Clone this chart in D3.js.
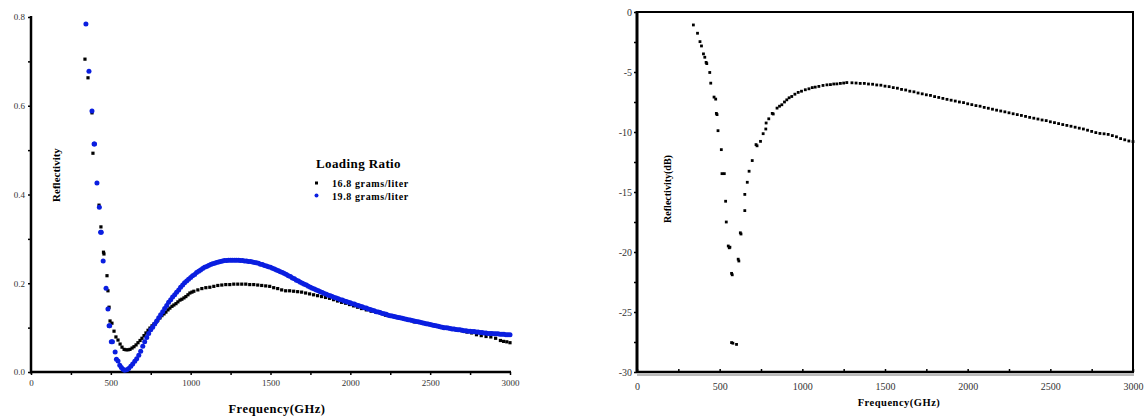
<!DOCTYPE html>
<html>
<head>
<meta charset="utf-8">
<script src="https://cdn.jsdelivr.net/npm/d3@7"></script>
<style>
  body { margin: 0; background: #fff; }
  svg { display: block; }
  text { font-family: "Liberation Serif", "Times New Roman", serif; }
</style>
</head>
<body>
<svg id="chart" width="1146" height="417"></svg>
<script>
// ---- Left panel: reflectivity (linear) for two loading ratios ----
const leftXTicks = [0, 500, 1000, 1500, 2000, 2500, 3000];
const leftYTicks = [0.0, 0.2, 0.4, 0.6, 0.8];
const legendTitle = "Loading Ratio";
const seriesNames = ["16.8 grams/liter", "19.8 grams/liter"];

// 16.8 grams/liter  [frequency GHz, reflectivity]
const load168 = [
  [338,0.705],[357,0.663],[382,0.584],[388,0.493],[426,0.376],[438,0.327],[454,0.270],[457,0.266],
  [476,0.217],[482,0.183],[489,0.146],[495,0.115],[507,0.110],[520,0.092],[532,0.079],[545,0.072],
  [558,0.063],[570,0.056],[583,0.051],[595,0.050],[608,0.050],[620,0.051],[633,0.054],[645,0.057],
  [658,0.061],[670,0.066],[683,0.071],[695,0.076],[708,0.082],[720,0.088],[733,0.094],[745,0.099],
  [758,0.104],[770,0.108],[783,0.112],[795,0.117],[808,0.122],[820,0.127],[833,0.131],[845,0.135],
  [858,0.140],[870,0.144],[883,0.148],[895,0.151],[908,0.154],[920,0.158],[933,0.162],[945,0.164],
  [958,0.167],[970,0.170],[983,0.174],[995,0.178],[1008,0.180],[1020,0.182],[1045,0.185],[1070,0.188],
  [1095,0.190],[1120,0.191],[1145,0.193],[1170,0.195],[1195,0.196],[1220,0.197],[1245,0.197],[1270,0.198],
  [1295,0.198],[1320,0.198],[1345,0.198],[1370,0.197],[1395,0.197],[1420,0.196],[1445,0.195],[1470,0.194],
  [1495,0.193],[1520,0.190],[1545,0.188],[1570,0.185],[1595,0.183],[1620,0.183],[1645,0.182],[1670,0.181],
  [1695,0.180],[1720,0.178],[1745,0.176],[1770,0.174],[1795,0.172],[1820,0.170],[1845,0.168],[1870,0.166],
  [1895,0.163],[1920,0.160],[1945,0.157],[1970,0.155],[1995,0.152],[2020,0.149],[2045,0.146],[2070,0.143],
  [2100,0.140],[2130,0.137],[2160,0.135],[2190,0.133],[2220,0.128],[2250,0.126],[2280,0.124],[2310,0.121],
  [2340,0.119],[2370,0.117],[2400,0.113],[2430,0.112],[2460,0.110],[2490,0.108],[2520,0.106],[2550,0.103],
  [2580,0.101],[2610,0.099],[2640,0.098],[2670,0.094],[2700,0.093],[2730,0.090],[2760,0.088],[2790,0.084],
  [2820,0.082],[2850,0.080],[2880,0.079],[2910,0.076],[2940,0.071],[2960,0.069],[2980,0.068],[3000,0.066]
];

// 19.8 grams/liter  [frequency GHz, reflectivity]
const load198 = [
  [344,0.784],[363,0.678],[382,0.588],[395,0.514],[398,0.514],[413,0.426],[428,0.371],[436,0.315],
  [440,0.315],[452,0.250],[470,0.189],[482,0.142],[489,0.104],[493,0.104],[503,0.068],[510,0.068],
  [527,0.045],[535,0.029],[545,0.025],[556,0.015],[566,0.010],[576,0.006],[586,0.004],
  [600,0.005],[612,0.008],[625,0.013],[637,0.018],[650,0.024],[662,0.030],[675,0.038],[687,0.047],
  [700,0.058],[712,0.068],[725,0.078],[737,0.087],[750,0.095],[762,0.101],[775,0.108],[787,0.115],
  [800,0.122],[812,0.129],[825,0.136],[837,0.143],[850,0.150],[862,0.157],[875,0.163],[887,0.169],
  [900,0.174],[912,0.180],[925,0.185],[937,0.191],[950,0.196],[962,0.201],[975,0.205],[987,0.209],
  [1000,0.213],[1012,0.217],[1025,0.220],[1037,0.224],[1050,0.227],[1062,0.230],[1075,0.233],[1087,0.236],
  [1100,0.238],[1112,0.240],[1125,0.242],[1137,0.244],[1150,0.245],[1162,0.247],[1175,0.248],[1187,0.249],
  [1200,0.250],[1212,0.251],[1225,0.251],[1237,0.252],[1250,0.252],[1262,0.252],[1275,0.252],[1287,0.252],
  [1300,0.252],[1312,0.251],[1325,0.251],[1337,0.250],[1350,0.250],[1362,0.249],[1375,0.249],[1387,0.248],
  [1400,0.247],[1412,0.246],[1425,0.245],[1437,0.243],[1450,0.242],[1462,0.240],[1475,0.239],[1487,0.237],
  [1500,0.236],[1512,0.234],[1525,0.232],[1537,0.230],[1550,0.228],[1562,0.226],[1575,0.224],[1587,0.222],
  [1600,0.220],[1612,0.217],[1625,0.215],[1637,0.212],[1650,0.210],[1662,0.207],[1675,0.205],[1687,0.202],
  [1700,0.200],[1712,0.198],[1725,0.196],[1737,0.193],[1750,0.191],[1762,0.189],[1775,0.187],[1787,0.185],
  [1800,0.183],[1812,0.181],[1825,0.179],[1837,0.177],[1850,0.175],[1862,0.173],[1875,0.172],[1887,0.170],
  [1900,0.168],[1912,0.167],[1925,0.165],[1937,0.163],[1950,0.162],[1962,0.160],[1975,0.159],[1987,0.157],
  [2000,0.156],[2012,0.154],[2025,0.153],[2037,0.151],[2050,0.150],[2062,0.148],[2075,0.147],[2087,0.145],
  [2100,0.144],[2112,0.142],[2125,0.141],[2137,0.139],[2150,0.138],[2162,0.136],[2175,0.135],[2187,0.134],
  [2200,0.132],[2212,0.131],[2225,0.130],[2237,0.128],[2250,0.127],[2262,0.126],[2275,0.125],[2287,0.124],
  [2300,0.123],[2312,0.122],[2325,0.121],[2337,0.120],[2350,0.119],[2362,0.118],[2375,0.117],[2387,0.116],
  [2400,0.115],[2412,0.114],[2425,0.113],[2437,0.112],[2450,0.111],[2462,0.110],[2475,0.109],[2487,0.108],
  [2500,0.107],[2512,0.106],[2525,0.105],[2537,0.104],[2550,0.103],[2562,0.102],[2575,0.101],[2587,0.100],
  [2600,0.100],[2612,0.099],[2625,0.098],[2637,0.097],[2650,0.097],[2662,0.096],[2675,0.095],[2687,0.095],
  [2700,0.094],[2712,0.093],[2725,0.093],[2737,0.092],[2750,0.092],[2762,0.091],[2775,0.091],[2787,0.090],
  [2800,0.090],[2812,0.089],[2825,0.089],[2837,0.088],[2850,0.088],[2862,0.087],[2875,0.087],[2887,0.087],
  [2900,0.086],[2912,0.086],[2925,0.086],[2937,0.085],[2950,0.085],[2962,0.085],[2975,0.084],[2987,0.084],
  [3000,0.084]
];

// ---- Right panel: reflectivity in dB ----
const rightXTicks = [0, 500, 1000, 1500, 2000, 2500, 3000];
const rightYTicks = [0, -5, -10, -15, -20, -25, -30];

// [frequency GHz, reflectivity dB]
const reflDb = [
  [341,-1.08],[366,-1.77],[381,-2.47],[390,-2.83],[402,-3.49],[410,-3.77],[418,-4.20],[422,-4.30],
  [440,-5.04],[446,-5.93],[466,-7.09],[476,-7.26],[480,-8.45],[484,-8.55],[490,-9.89],[510,-11.47],
  [514,-13.47],[528,-13.47],[536,-15.77],[540,-17.50],[552,-19.50],[558,-19.65],[562,-19.60],[572,-21.78],
  [576,-21.90],[572,-27.55],[580,-27.60],[602,-27.70],[612,-20.60],[616,-20.75],[625,-18.40],[629,-18.50],
  [652,-16.55],[652,-15.20],[667,-14.19],[678,-13.27],[697,-12.38],[720,-11.05],[726,-11.15],[747,-10.78],
  [763,-10.14],[779,-9.75],[781,-9.25],[797,-8.90],[818,-8.45],[824,-8.50],[847,-8.01],[862,-7.85],
  [876,-7.73],[892,-7.50],[906,-7.32],[920,-7.15],[936,-7.04],[955,-6.85],[975,-6.70],[995,-6.60],
  [1018,-6.48],[1040,-6.40],[1060,-6.30],[1078,-6.26],[1100,-6.20],[1125,-6.12],[1149,-6.07],[1170,-6.05],
  [1190,-6.00],[1209,-5.99],[1230,-5.95],[1250,-5.92],[1269,-5.88],[1300,-5.90],[1325,-5.92],[1350,-5.95],
  [1375,-5.95],[1400,-6.00],[1425,-6.02],[1450,-6.08],[1475,-6.10],[1500,-6.18],[1525,-6.22],[1550,-6.30],
  [1575,-6.35],[1600,-6.45],[1625,-6.50],[1650,-6.60],[1675,-6.65],[1700,-6.75],[1725,-6.82],[1750,-6.90],
  [1775,-6.95],[1800,-7.05],[1825,-7.12],[1850,-7.20],[1875,-7.28],[1900,-7.35],[1925,-7.42],[1950,-7.50],
  [1975,-7.55],[2000,-7.65],[2025,-7.72],[2050,-7.80],[2075,-7.85],[2100,-7.95],[2125,-8.02],[2150,-8.10],
  [2175,-8.18],[2200,-8.25],[2225,-8.32],[2250,-8.40],[2275,-8.48],[2300,-8.55],[2325,-8.62],[2350,-8.70],
  [2375,-8.78],[2400,-8.85],[2425,-8.92],[2450,-9.00],[2475,-9.05],[2500,-9.15],[2525,-9.22],[2550,-9.30],
  [2575,-9.38],[2600,-9.45],[2625,-9.52],[2650,-9.60],[2675,-9.68],[2700,-9.75],[2725,-9.85],[2750,-9.95],
  [2775,-10.05],[2800,-10.12],[2825,-10.15],[2850,-10.20],[2875,-10.30],[2900,-10.40],[2925,-10.55],[2950,-10.65],
  [2975,-10.75],[3000,-10.80]
];

const svg = d3.select("#chart");

// ================= Left panel =================
const L = { left: 31, right: 510, top: 17, bottom: 372 };
const xL = d3.scaleLinear().domain([0, 3000]).range([L.left, L.right]);
const yL = d3.scaleLinear().domain([0, 0.8]).range([L.bottom, L.top]);

const gL = svg.append("g");

// minor ticks every 250 GHz / 0.1
const xAxisL = d3.axisBottom(xL).tickValues(d3.range(0, 3001, 250)).tickSize(3)
  .tickFormat(d => leftXTicks.includes(d) ? d : "");
const yAxisL = d3.axisLeft(yL).tickValues(d3.range(0, 0.81, 0.1).map(v => +v.toFixed(1))).tickSize(3)
  .tickFormat(d => leftYTicks.some(t => Math.abs(t - d) < 1e-9) ? d3.format(".1f")(d) : "");

function styleAxis(g, fs) {
  g.select(".domain").remove();
  g.selectAll(".tick line").attr("stroke", "#000").attr("stroke-width", 1.5);
  g.selectAll(".tick text").attr("fill", "#333").style("font-size", fs + "px")
    .style("font-family", "'Liberation Serif', serif");
}

gL.append("g").attr("transform", `translate(0,${L.bottom})`).call(xAxisL)
  .call(g => { styleAxis(g, 9); g.selectAll(".tick text").attr("dy", "0.9em"); });
gL.append("g").attr("transform", `translate(${L.left},0)`).call(yAxisL)
  .call(g => styleAxis(g, 9));

gL.append("line").attr("x1", L.left).attr("x2", L.left).attr("y1", L.top - 1).attr("y2", L.bottom + 1.5)
  .attr("stroke", "#000").attr("stroke-width", 2.5);
gL.append("line").attr("x1", L.left - 1).attr("x2", L.right + 1).attr("y1", L.bottom).attr("y2", L.bottom)
  .attr("stroke", "#000").attr("stroke-width", 2.5);

// series: black squares, then blue circles on top
gL.append("g").selectAll("rect").data(load168).join("rect")
  .attr("x", d => xL(d[0]) - 1.6).attr("y", d => yL(d[1]) - 1.6)
  .attr("width", 3.2).attr("height", 3.2).attr("fill", "#000");
gL.append("g").selectAll("circle").data(load198).join("circle")
  .attr("cx", d => xL(d[0])).attr("cy", d => yL(d[1])).attr("r", 2.5).attr("fill", "#0a1ee0");

// axis titles
gL.append("text").attr("x", 277).attr("y", 413).attr("text-anchor", "middle")
  .style("font-size", "12.5px").style("font-weight", "bold").style("letter-spacing", "0.5px")
  .text("Frequency(GHz)");
gL.append("text").attr("transform", "translate(60,175) rotate(-90)").attr("text-anchor", "middle")
  .style("font-size", "11px").style("font-weight", "bold").text("Reflectivity");

// legend
const lg = gL.append("g");
lg.append("text").attr("x", 316).attr("y", 168).style("font-size", "13px").style("font-weight", "bold")
  .style("letter-spacing", "0.4px").text(legendTitle);
lg.append("rect").attr("x", 315).attr("y", 181.5).attr("width", 3).attr("height", 3).attr("fill", "#000");
lg.append("circle").attr("cx", 316.5).attr("cy", 195.5).attr("r", 2).attr("fill", "#0a1ee0");
lg.append("text").attr("x", 332).attr("y", 187).style("font-size", "10px").style("font-weight", "bold")
  .style("letter-spacing", "0.6px").text(seriesNames[0]);
lg.append("text").attr("x", 332).attr("y", 200).style("font-size", "10px").style("font-weight", "bold")
  .style("letter-spacing", "0.6px").text(seriesNames[1]);

// ================= Right panel =================
const R = { left: 637, right: 1133, top: 12, bottom: 372 };
const xR = d3.scaleLinear().domain([0, 3000]).range([R.left, R.right]);
const yR = d3.scaleLinear().domain([-30, 0]).range([R.bottom, R.top]);
const gR = svg.append("g");

const xAxisR = d3.axisBottom(xR).tickValues(d3.range(0, 3001, 250)).tickSize(-3)
  .tickFormat(d => rightXTicks.includes(d) ? d : "");
const yAxisR = d3.axisLeft(yR).tickValues(d3.range(-30, 0.1, 2.5)).tickSize(3)
  .tickFormat(d => rightYTicks.includes(d) ? d : "");

gR.append("g").attr("transform", `translate(0,${R.bottom})`).call(xAxisR)
  .call(g => { styleAxis(g, 10); g.selectAll(".tick text").attr("y", 9).attr("dy", "0.9em"); });
gR.append("g").attr("transform", `translate(${R.left},0)`).call(yAxisR)
  .call(g => { styleAxis(g, 10); g.selectAll(".tick text").attr("x", -5); });

// frame
gR.append("line").attr("x1", R.left).attr("x2", R.right + 1).attr("y1", R.top).attr("y2", R.top)
  .attr("stroke", "#000").attr("stroke-width", 2);
gR.append("line").attr("x1", R.right).attr("x2", R.right).attr("y1", R.top).attr("y2", R.bottom)
  .attr("stroke", "#000").attr("stroke-width", 2);
gR.append("line").attr("x1", R.left).attr("x2", R.left).attr("y1", R.top - 1).attr("y2", R.bottom + 1)
  .attr("stroke", "#000").attr("stroke-width", 3);
gR.append("line").attr("x1", R.left).attr("x2", R.right + 1).attr("y1", R.bottom).attr("y2", R.bottom)
  .attr("stroke", "#000").attr("stroke-width", 2.5);
gR.append("line").attr("x1", R.left).attr("x2", R.right + 1).attr("y1", R.bottom + 3).attr("y2", R.bottom + 3)
  .attr("stroke", "#777").attr("stroke-width", 1);

gR.append("g").selectAll("rect").data(reflDb).join("rect")
  .attr("x", d => xR(d[0]) - 1.4).attr("y", d => yR(d[1]) - 1.4)
  .attr("width", 2.8).attr("height", 2.8).attr("fill", "#000");

gR.append("text").attr("x", 899).attr("y", 406).attr("text-anchor", "middle")
  .style("font-size", "10.5px").style("font-weight", "bold").style("letter-spacing", "0.5px")
  .text("Frequency(GHz)");
gR.append("text").attr("transform", "translate(671,189) rotate(-90)").attr("text-anchor", "middle")
  .style("font-size", "10px").style("font-weight", "bold").text("Reflectivity(dB)");
</script>
</body>
</html>
